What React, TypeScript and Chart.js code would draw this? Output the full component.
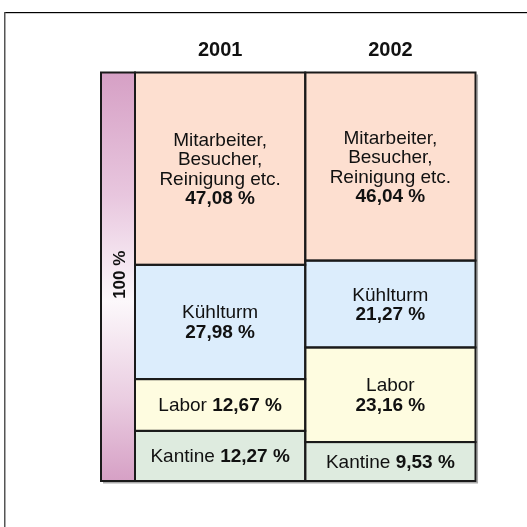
import React, { useEffect, useRef } from "react";
import { Chart, registerables } from "chart.js";

Chart.register(...registerables);

const years = ["2001", "2002"];
const totalLabel = "100 %";
const kantine = [12.27, 9.53];
const labor = [12.67, 23.16];
const kuehlturm = [27.98, 21.27];
const mitarbeiter = [47.08, 46.04];
const seriesNames = [["Kantine"], ["Labor"], ["Kühlturm"], ["Mitarbeiter,", "Besucher,", "Reinigung etc."]];
const seriesColors = ["#DEEBDF", "#FEFCE0", "#DCEDFC", "#FDDFD0"];

const FONT = "'Liberation Sans', Arial, sans-serif";
const fmt = (v: number) => v.toFixed(2).replace(".", ",") + " %";

const overlay = {
  id: "overlay",
  beforeDraw(chart: any) {
    const ctx = chart.ctx;
    ctx.save();
    ctx.fillStyle = "#fff";
    ctx.fillRect(0, 0, chart.width, chart.height);
    ctx.fillStyle = "#000";
    ctx.fillRect(4, 12, chart.width - 4, 1.2);
    ctx.fillStyle = "#555";
    ctx.fillRect(4, 12, 1.5, chart.height - 12);
    ctx.restore();
  },
  afterDatasetsDraw(chart: any) {
    const ctx = chart.ctx;
    const ca = chart.chartArea;
    const yS = chart.scales.y;
    const xS = chart.scales.x;
    ctx.save();
    // gradient 100% bar
    const gTop = yS.getPixelForValue(100);
    const gBot = yS.getPixelForValue(0);
    const gL = ca.left - 34;
    const grad = ctx.createLinearGradient(0, gTop, 0, gBot);
    grad.addColorStop(0, "#D6A0C5");
    grad.addColorStop(0.3, "#E8C6DE");
    grad.addColorStop(0.56, "#FCF8FB");
    grad.addColorStop(0.8, "#EACDE1");
    grad.addColorStop(1, "#D6A0C5");
    ctx.fillStyle = grad;
    ctx.fillRect(gL, gTop, 34, gBot - gTop);

    // shadow
    ctx.strokeStyle = "#aaa";
    ctx.lineWidth = 1.5;
    ctx.beginPath();
    ctx.moveTo(ca.right + 1.8, gTop + 2);
    ctx.lineTo(ca.right + 1.8, gBot + 1.8);
    ctx.lineTo(gL + 2, gBot + 1.8);
    ctx.stroke();

    ctx.strokeStyle = "#1a1a1a";
    ctx.lineWidth = 2;
    ctx.strokeRect(gL, gTop, 34, gBot - gTop);

    ctx.save();
    ctx.translate(gL + 19, (gTop + gBot) / 2 - 2);
    ctx.rotate(-Math.PI / 2);
    ctx.fillStyle = "#111";
    ctx.font = `bold 17px ${FONT}`;
    ctx.textAlign = "center";
    ctx.textBaseline = "middle";
    ctx.fillText(totalLabel, 0, 0);
    ctx.restore();

    // headers
    ctx.fillStyle = "#111";
    ctx.font = `bold 20px ${FONT}`;
    ctx.textAlign = "center";
    ctx.textBaseline = "middle";
    years.forEach((yr, i) => {
      ctx.fillText(yr, xS.getPixelForValue(i), 50);
    });

    chart.data.datasets.forEach((ds: any, di: number) => {
      const meta = chart.getDatasetMeta(di);
      meta.data.forEach((el: any, i: number) => {
        const p = el.getProps(["x", "y", "base", "width"], true);
        const left = p.x - p.width / 2;
        const top = Math.min(p.y, p.base);
        const bottom = Math.max(p.y, p.base);
        ctx.strokeStyle = "#1a1a1a";
        ctx.lineWidth = 2;
        ctx.strokeRect(left, top, p.width, bottom - top);

        const cx = p.x;
        const cy = (top + bottom) / 2;
        const names = seriesNames[di];
        const valTxt = fmt(ds.data[i]);
        const reg = `19px ${FONT}`;
        const bold = `bold 19px ${FONT}`;
        ctx.fillStyle = "#111";
        ctx.textBaseline = "middle";
        if (bottom - top < 60) {
          ctx.font = reg;
          const a = names[0] + " ";
          const wa = ctx.measureText(a).width;
          ctx.font = bold;
          const wb = ctx.measureText(valTxt).width;
          const sx = cx - (wa + wb) / 2;
          ctx.textAlign = "left";
          ctx.font = reg;
          ctx.fillText(a, sx, cy + 1);
          ctx.font = bold;
          ctx.fillText(valTxt, sx + wa, cy + 1);
        } else {
          const lines = [...names, valTxt];
          const lh = 19.5;
          const y0 = cy - ((lines.length - 1) * lh) / 2;
          ctx.textAlign = "center";
          lines.forEach((ln, k) => {
            ctx.font = k === lines.length - 1 ? bold : reg;
            ctx.fillText(ln, cx, y0 + k * lh + 1);
          });
        }
      });
    });
    ctx.restore();
  },
};

export default function App() {
  const ref = useRef<HTMLCanvasElement>(null);
  useEffect(() => {
    if (!ref.current) return;
    const series = [kantine, labor, kuehlturm, mitarbeiter];
    const chart = new Chart(ref.current, {
      type: "bar",
      data: {
        labels: years,
        datasets: series.map((d, i) => ({
          label: seriesNames[i].join(" "),
          data: d,
          backgroundColor: seriesColors[i],
          borderWidth: 0,
          barPercentage: 1,
          categoryPercentage: 1,
        })),
      },
      options: {
        responsive: false,
        animation: false,
        layout: { padding: { left: 135, right: 51.5, top: 72.5, bottom: 46 } },
        plugins: { legend: { display: false }, tooltip: { enabled: false } },
        scales: {
          x: { stacked: true, display: false },
          y: { stacked: true, display: false, min: 0, max: 100 },
        },
      },
      plugins: [overlay],
    });
    return () => chart.destroy();
  }, []);
  return (
    <div style={{ position: "absolute", left: 0, top: 0, width: 527, height: 527 }}>
      <canvas ref={ref} width={527} height={527} style={{ display: "block" }} />
    </div>
  );
}
